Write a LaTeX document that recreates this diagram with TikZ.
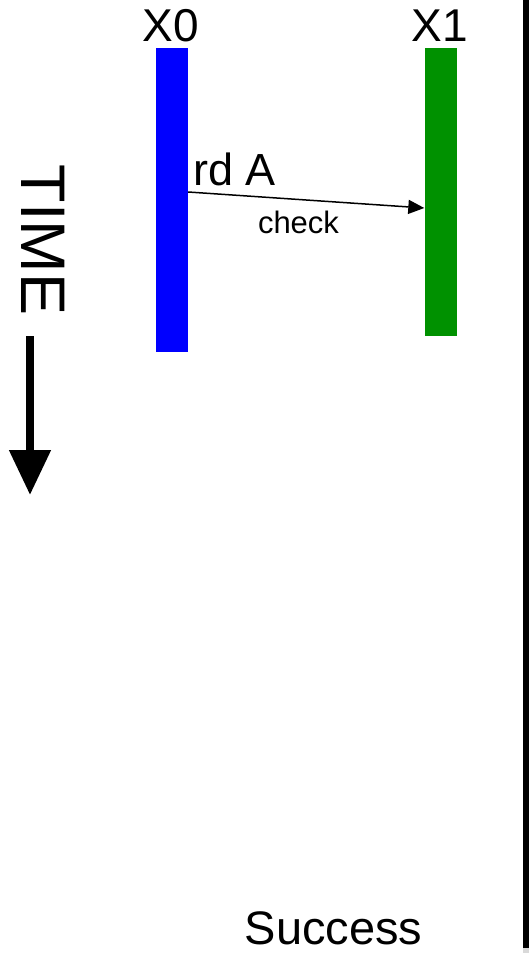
\documentclass[tikz,border=0pt]{standalone}
\usepackage{fontspec}
\setmainfont{Liberation Sans}
\usetikzlibrary{arrows.meta}
\tikzset{
  lbl/.style={inner sep=0pt, anchor=base},
  bar/.style={inner sep=0pt, minimum width=32pt, anchor=north},
}
\begin{document}
\begin{tikzpicture}[x=1pt,y=-1pt]
\useasboundingbox (0,0) rectangle (529,953);
% lifelines
\node[bar, fill={rgb,255:red,0;green,0;blue,255}, minimum height=304pt] (x0) at (172,48) {};
\node[bar, fill={rgb,255:red,0;green,145;blue,0}, minimum height=288pt] (x1) at (440.5,48) {};
\node[lbl, font=\fontsize{46}{54}\selectfont] (lx0) at (171,41) {X0};
\node[lbl, font=\fontsize{46}{54}\selectfont] (lx1) at (440,41) {X1};
% message
\coordinate (ms) at (x0.north east |- 0,192);
\coordinate (me) at (x1.north west |- 0,208);
\draw[line width=1.5pt, -{Triangle[length=16pt,width=14pt]}] (ms) -- (me);
\node[lbl, font=\fontsize{45}{52}\selectfont, anchor=base west] (rd) at (193,185) {rd A};
\node[lbl, font=\fontsize{31}{36}\selectfont] (chk) at (298.5,233) {check};
% time
\node[inner sep=0pt, rotate=-90, font=\fontsize{63}{70}\selectfont] (time) at (43,240) {TIME};
\coordinate (ts) at (30,336);
\coordinate (te) at (30,495);
\draw[line width=8pt, -{Triangle[length=45pt,width=40pt]}] (ts) -- (te);
% success
\node[lbl, font=\fontsize{47}{54}\selectfont] (succ) at (333.5,944) {Success};
% right border
\fill[black] (523.3,0) rectangle (529,948);
\fill[gray!30] (523,948) rectangle (529,953);
\end{tikzpicture}
\end{document}
